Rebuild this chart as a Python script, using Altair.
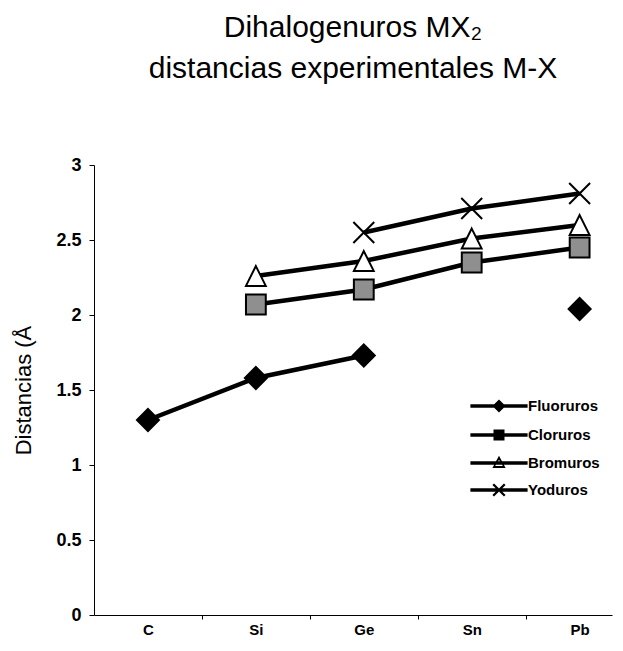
import json
import altair as alt
import pandas as pd

# ---------------- data ----------------
categorias = ["C", "Si", "Ge", "Sn", "Pb"]
series = ["Fluoruros", "Cloruros", "Bromuros", "Yoduros"]
fluoruros = [1.30, 1.58, 1.73, None, 2.04]
cloruros = [None, 2.07, 2.17, 2.35, 2.45]
bromuros = [None, 2.26, 2.36, 2.51, 2.60]
yoduros = [None, None, 2.55, 2.71, 2.81]
y_ticks = [0, 0.5, 1, 1.5, 2, 2.5, 3]
titulo = ["Dihalogenuros MX\u2082", "distancias experimentales M-X"]
titulo_y = "Distancias (\u00c5"

valores = {"Fluoruros": fluoruros, "Cloruros": cloruros,
           "Bromuros": bromuros, "Yoduros": yoduros}
rows = []
for s in series:
    seg = 0
    for i, v in enumerate(valores[s]):
        if v is None:
            seg += 1
            continue
        rows.append({"serie": s, "idx": i, "cat": categorias[i],
                     "valor": v, "grp": f"{s}-{seg}"})
df = pd.DataFrame(rows)

# ---------------- styles ----------------
marker_paths = [
    "M0,-1L1,0L0,1L-1,0Z",
    "M-0.9,-0.9H0.9V0.9H-0.9Z",
    "M0,-0.9L0.9,0.9H-0.9Z",
    "M-0.95,-0.95L0.95,0.95M0.95,-0.95L-0.95,0.95",
]
LINE = "M-2.6,-0.17H2.6V0.17H-2.6Z"
legend_paths = [
    LINE + "M0,-0.6L0.6,0L0,0.6L-0.6,0Z",
    LINE + "M-0.5,-0.5H0.5V0.5H-0.5Z",
    LINE + "M0,-0.65L0.6,0.45H-0.6ZM0,-0.3L-0.35,0.28H0.35Z",
    LINE + "M-0.6,-0.45L-0.45,-0.6L0.6,0.45L0.45,0.6Z"
           "M0.45,-0.6L0.6,-0.45L-0.45,0.6L-0.6,0.45Z",
]
fills = ["black", "#8f8f8f", "white", "black"]
FONT = "Liberation Sans"

x_enc = alt.X(
    "idx:Q",
    scale=alt.Scale(domain=[-0.5, 4.3], nice=False, zero=False),
    axis=alt.Axis(
        title=None, values=list(range(len(categorias))),
        labelExpr=f"{json.dumps(categorias)}[datum.value]",
        tickOffset=54, labelOffset=-54, tickSize=4,
        labelFontSize=15, labelPadding=3, grid=False,
    ),
)
y_enc = alt.Y(
    "valor:Q",
    scale=alt.Scale(domain=[0, 3], nice=False),
    axis=alt.Axis(
        title=titulo_y, values=y_ticks, format="~g", grid=False,
        tickSize=5, labelFontSize=18, labelPadding=8,
        titleFont=FONT, titleFontSize=22, titleFontWeight="normal",
        titlePadding=20, titleColor="black",
    ),
)

base = alt.Chart(df)

lines = base.mark_line(color="black", strokeWidth=4.5).encode(
    x=x_enc, y=y_enc, detail="grp:N", order="idx:Q"
)

points = base.mark_point(
    filled=True, size=484, stroke="black", strokeWidth=2, opacity=1
).encode(
    x=x_enc, y=y_enc,
    shape=alt.Shape("serie:N", scale=alt.Scale(domain=series, range=marker_paths), legend=None),
    fill=alt.Fill("serie:N", scale=alt.Scale(domain=series, range=fills), legend=None),
)

leg = alt.Legend(
    title=None, orient="none", legendX=393, legendY=229, padding=0,
    labelFont=FONT, labelFontSize=15, labelFontWeight="bold", labelColor="black",
    labelOffset=17, rowPadding=7, symbolSize=484, symbolOpacity=1,
)

legend_layer = base.transform_filter("false").mark_point(
    filled=True, color="black", size=484, strokeWidth=0, opacity=1
).encode(
    x=x_enc, y=y_enc,
    shape=alt.Shape("serie:N", scale=alt.Scale(domain=series, range=legend_paths), legend=leg),
)

chart = (
    alt.layer(lines, points, legend_layer)
    .resolve_scale(shape="independent", fill="independent")
    .properties(
        width=518, height=450,
        padding={"left": 86, "top": 157, "right": 3, "bottom": 25},
        autosize=alt.AutoSizeParams(type="none"),
        background="white",
        title=alt.TitleParams(
            text=titulo, font=FONT, fontSize=30, fontWeight="normal",
            color="black", anchor="middle", lineHeight=41, offset=72,
        ),
    )
    .configure_view(stroke=None)
    .configure_axis(
        domainColor="black", tickColor="black", labelColor="black",
        labelFont=FONT, labelFontWeight="bold", domainWidth=1, tickWidth=1,
    )
)

chart.save("out.html", embed_options={"renderer": "svg", "actions": False})
